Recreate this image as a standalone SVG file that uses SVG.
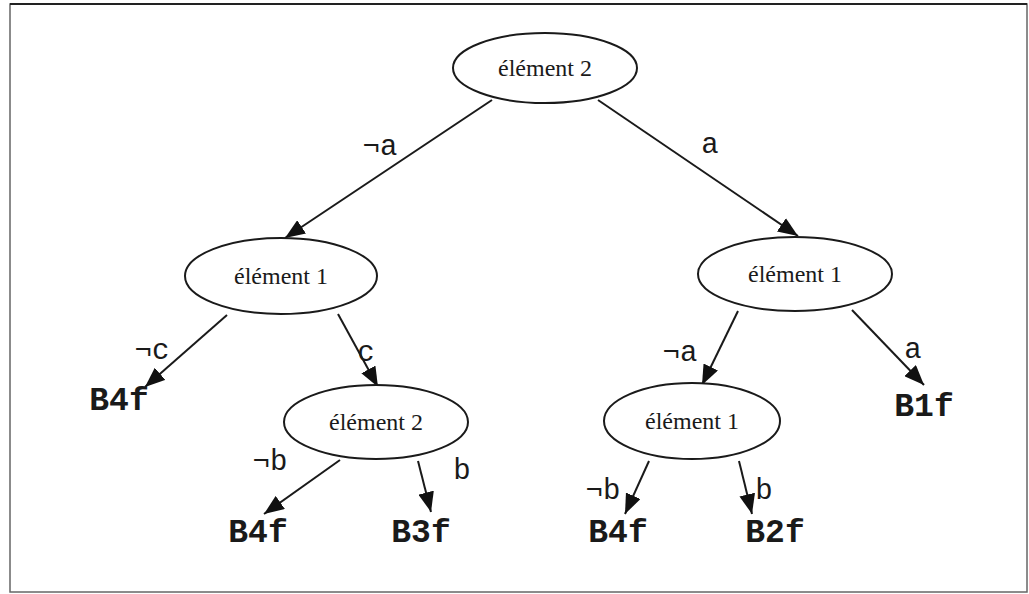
<svg xmlns="http://www.w3.org/2000/svg" width="1029" height="594" viewBox="0 0 1029 594">
<style>
.node ellipse{fill:#fff;stroke:#1a1a1a;stroke-width:2}
.node text{font-family:"Liberation Serif",serif;font-size:24px;fill:#1a1a1a;text-anchor:middle}
.leaf text{font-family:"Liberation Mono",monospace;font-weight:bold;font-size:33px;fill:#1a1a1a;text-anchor:middle}
.edges line{stroke:#1a1a1a;stroke-width:2}
.lbl{font-family:"Liberation Mono",monospace;font-size:29px;fill:#1a1a1a;text-anchor:middle}
</style>
<defs>
<marker id="ah" viewBox="0 0 20 16" refX="20" refY="8" markerWidth="20" markerHeight="16" markerUnits="userSpaceOnUse" orient="auto">
<path d="M0,0 L20,8 L0,16 z" fill="#111"/>
</marker>
</defs>
<rect x="0" y="0" width="1029" height="594" fill="#fff"/>
<rect x="10" y="4" width="1017" height="588" fill="none" stroke="#666" stroke-width="1.5"/>
<line x1="10" y1="4" x2="1027" y2="4" stroke="#222" stroke-width="2"/>

<g class="edges">
<line x1="492" y1="100" x2="285" y2="238" marker-end="url(#ah)"/>
<line x1="598" y1="100" x2="798" y2="236" marker-end="url(#ah)"/>
<line x1="227" y1="315" x2="145" y2="387" marker-end="url(#ah)"/>
<line x1="338" y1="314" x2="378" y2="387" marker-end="url(#ah)"/>
<line x1="738" y1="311" x2="702" y2="385" marker-end="url(#ah)"/>
<line x1="852" y1="310" x2="924" y2="385" marker-end="url(#ah)"/>
<line x1="340" y1="460" x2="264" y2="514" marker-end="url(#ah)"/>
<line x1="418" y1="461" x2="431" y2="512" marker-end="url(#ah)"/>
<line x1="649" y1="461" x2="625" y2="514" marker-end="url(#ah)"/>
<line x1="739" y1="461" x2="752" y2="514" marker-end="url(#ah)"/>
<text class="lbl" x="380" y="155">¬a</text>
<text class="lbl" x="710" y="153">a</text>
<text class="lbl" x="152" y="359">¬c</text>
<text class="lbl" x="366" y="361">c</text>
<text class="lbl" x="680" y="361">¬a</text>
<text class="lbl" x="913" y="358">a</text>
<text class="lbl" x="270" y="470">¬b</text>
<text class="lbl" x="462" y="479">b</text>
<text class="lbl" x="603" y="499">¬b</text>
<text class="lbl" x="764" y="499">b</text>
</g>

<g id="n_root" class="node"><ellipse cx="545" cy="68" rx="92" ry="35"/><text x="545" y="76">élément 2</text></g>
<g id="n_l1" class="node"><ellipse cx="281" cy="276" rx="96" ry="38"/><text x="281" y="284">élément 1</text></g>
<g id="n_r1" class="node"><ellipse cx="795" cy="274" rx="97" ry="37"/><text x="795" y="282">élément 1</text></g>
<g id="n_l2" class="node"><ellipse cx="376" cy="422" rx="92" ry="37"/><text x="376" y="430">élément 2</text></g>
<g id="n_r2" class="node"><ellipse cx="692" cy="421" rx="88" ry="38"/><text x="692" y="429">élément 1</text></g>

<g id="leaf_b4f_1" class="leaf"><text x="119" y="410">B4f</text></g>
<g id="leaf_b1f" class="leaf"><text x="924" y="416">B1f</text></g>
<g id="leaf_b4f_2" class="leaf"><text x="258" y="542">B4f</text></g>
<g id="leaf_b3f" class="leaf"><text x="421" y="542">B3f</text></g>
<g id="leaf_b4f_3" class="leaf"><text x="618" y="542">B4f</text></g>
<g id="leaf_b2f" class="leaf"><text x="775" y="542">B2f</text></g>
</svg>
